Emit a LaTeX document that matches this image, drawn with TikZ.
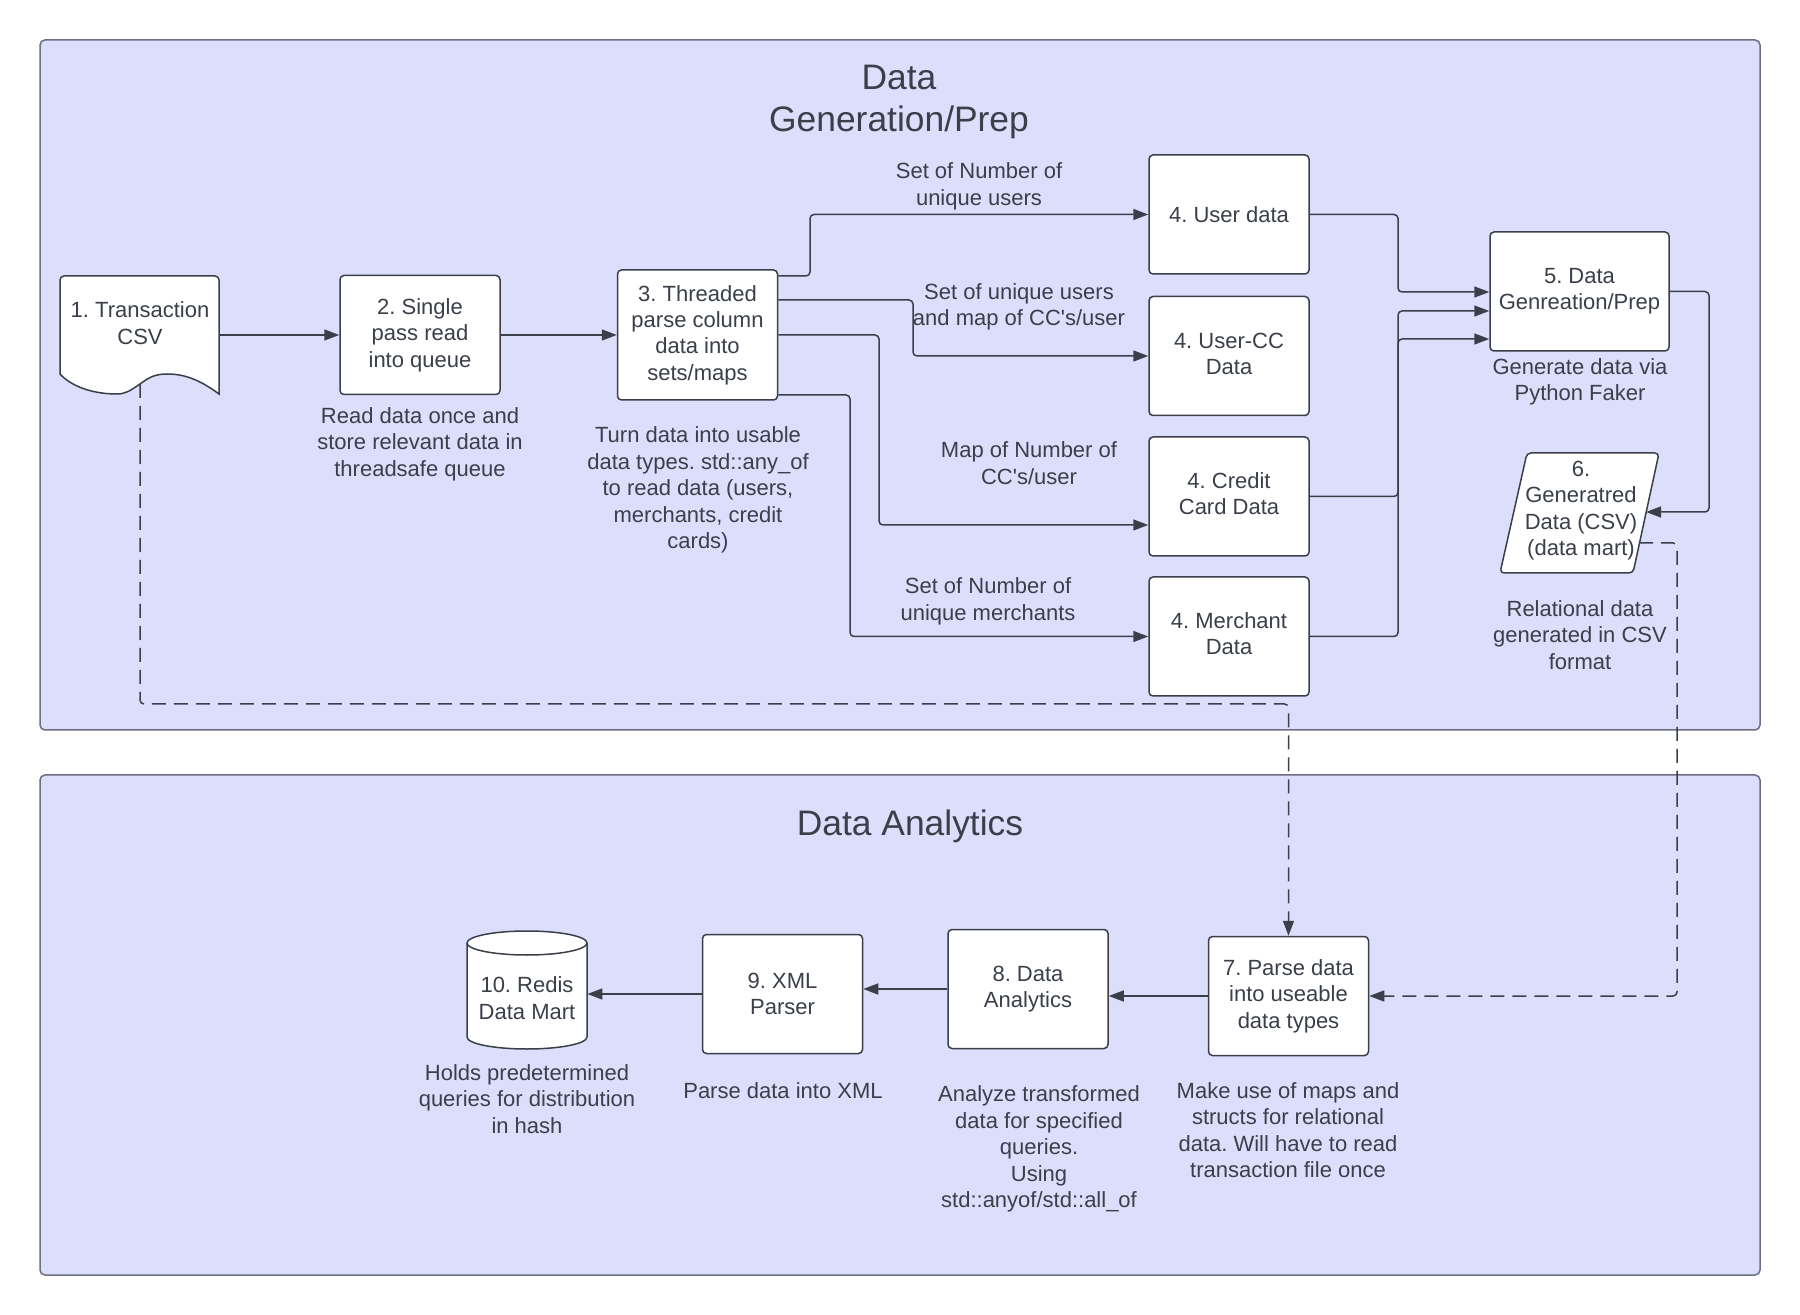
\documentclass[tikz,border=0pt]{standalone}
\usepackage{fontspec}
\setmainfont{Liberation Sans}[Ligatures=TeXOff]
\usetikzlibrary{arrows.meta,calc}
\definecolor{panelfill}{HTML}{DDDEFB}
\definecolor{panelline}{HTML}{6E6E82}
\definecolor{ink}{HTML}{3A3F4A}
\frenchspacing
\begin{document}
\begin{tikzpicture}[x=0.5pt,y=-0.5pt,
  every node/.style={font=\fontsize{11}{13.2}\selectfont, text=ink, align=center},
  panel/.style={draw=panelline, fill=panelfill, line width=0.75pt, rounded corners=2.5pt},
  shapeline/.style={draw=ink, fill=white, line width=0.75pt},
  procbox/.style={shapeline, rounded corners=2pt, minimum width=80pt, minimum height=59.5pt, inner sep=2pt},
  arr/.style={draw=ink, line width=0.75pt, rounded corners=2pt, -{Triangle[length=7.5pt,width=5.5pt]}},
  dsharr/.style={arr, dash pattern=on 7pt off 4pt},
  title/.style={font=\fontsize{17.7}{21.2}\selectfont}]

\useasboundingbox (0,0) rectangle (1800,1315);
\fill[white] (0,0) rectangle (1800,1315);

% swimlane panels
\draw[panel] (40,40) rectangle (1760,730);
\draw[panel] (40,775) rectangle (1760,1275);
\node[title] (titleprep) at (899,102) {Data\\Generation/Prep};
\node[title] (titleana) at (910,826.5) {Data Analytics};

% 1. document shape with wavy foot
\draw[shapeline] (60,374) [rounded corners=2pt] -- (60,276) -- (219,276) [sharp corners] -- (219,394)
  .. controls (200,380) and (185,374) .. (167,374)
  .. controls (152,374) and (146,380) .. (140,384)
  .. controls (130,391) and (125,394) .. (117,394)
  .. controls (90,394) and (70,385) .. (60,374) -- cycle;
\node[minimum width=79.5pt, minimum height=60pt, inner sep=0pt] (n1) at (139.5,336) {};
\node (n1label) at (140,323) {1. Transaction\\CSV};
\coordinate (n1foot) at (140,384);

% process boxes
\node[procbox] (n2) at (420,335) {2. Single\\pass read\\into queue};
\node[procbox, minimum height=65pt] (n3) at (697.5,335) {3. Threaded\\parse column\\data into\\sets/maps};
\node[procbox] (n4u) at (1229,214.5) {4. User data};
\node[procbox] (n4c) at (1229,356) {};
\node (n4clabel) at (1229,354) {4. User-CC\\Data};
\node[procbox] (n4k) at (1229,496.5) {};
\node (n4klabel) at (1229,493.5) {4. Credit\\Card Data};
\node[procbox] (n4m) at (1229,636.5) {};
\node (n4mlabel) at (1229,633.5) {4. Merchant\\Data};
\node[procbox, minimum width=89.5pt] (n5) at (1579.5,291.5) {5. Data\\Genreation/Prep};

% 6. parallelogram (data)
\draw[shapeline, rounded corners=2pt] (1527,453) -- (1659,453) -- (1633,573) -- (1500,573) -- cycle;
\node (n6) at (1581,510.5) {6.\\Generatred\\Data (CSV)\\(data mart)};
\coordinate (n6in) at (1646,512);
\coordinate (n6out) at (1639,543);

\node[procbox] (n7) at (1288.5,996) {7. Parse data\\into useable\\data types};
\node[procbox] (n8) at (1028,989) {8. Data\\Analytics};
\node[procbox] (n9) at (782.5,994) {9. XML\\Parser};

% 10. cylinder
\draw[shapeline] (467,943) -- (467,1037) arc[start angle=180, end angle=0, x radius=60, y radius=12]
  -- (587,943) arc[start angle=0, end angle=-180, x radius=60, y radius=12] -- cycle;
\draw[shapeline, fill=none] (467,943) arc[start angle=180, end angle=0, x radius=60, y radius=12];
\node[minimum width=60pt, inner sep=0pt] (n10) at (527,998) {10. Redis\\Data Mart};

% captions
\node (c2) at (420,444) {Read data once and\\store relevant data in\\threadsafe queue};
\node (c3) at (698,490) {Turn data into usable\\data types. std::any\_of\\to read data (users,\\merchants, credit\\cards)};
\node (l1) at (979,186.5) {Set of Number of\\unique users};
\node (l2) at (1019,307) {Set of unique users\\and map of CC's/user};
\node (l3) at (1029,463) {Map of Number of\\CC's/user};
\node (l4) at (988,601.5) {Set of Number of\\unique merchants};
\node (c5) at (1580,382) {Generate data via\\Python Faker};
\node (c6) at (1580,635) {Relational data\\generated in CSV\\format};
\node (c10) at (527,1099) {Holds predetermined\\queries for distribution\\in hash};
\node (c9) at (783,1091) {Parse data into XML};
\node (c8) at (1039,1149) {Analyze transformed\\data for specified\\queries.\\Using\\std::anyof/std::all\_of};
\node (c7) at (1288,1130) {Make use of maps and\\structs for relational\\data. Will have to read\\transaction file once};

% connectors
\draw[arr] (n1.east |- n2.west) -- (n2.west);
\draw[arr] (n2) -- (n3);
\draw[arr] (n3.east |- 0,276) -| (810,245) |- (n4u.west);
\draw[arr] (n3.east |- 0,300) -| (913,330) |- (n4c.west);
\draw[arr] (n3.east |- 0,335) -| (879,430) |- (n4k.west |- 0,525);
\draw[arr] (n3.east |- 0,395) -| (850,500) |- (n4m.west);
\draw[arr] (n4u.east) -| (1398,250) |- (n5.west |- 0,292);
\draw[arr] (n4k.east) -| (1398,400) |- (n5.west |- 0,311);
\draw[arr] (n4m.east) -| (1398,500) |- (n5.west |- 0,339);
\draw[arr] (n5.east) -| (1709,400) |- (n6in);
\draw[dsharr] (n1foot) |- (n7.north |- 0,704) -- (n7.north);
\draw[dsharr] (n6out) -| (1677,800) |- (n7.east);
\draw[arr] (n7.west) -- (n8.east |- n7.west);
\draw[arr] (n8.west) -- (n9.east |- n8.west);
\draw[arr] (n9.west) -- (n10.east |- n9.west);
\end{tikzpicture}
\end{document}
